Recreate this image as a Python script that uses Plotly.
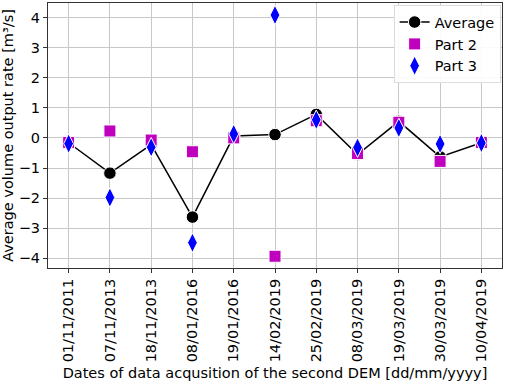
import plotly.graph_objects as go

dates = ["01/11/2011", "07/11/2013", "18/11/2013", "08/01/2016", "19/01/2016",
         "14/02/2019", "25/02/2019", "08/03/2019", "19/03/2019", "30/03/2019", "10/04/2019"]
average = [-0.16, -1.17, -0.22, -2.63, 0.06, 0.11, 0.78, -0.55, 0.55, -0.63, -0.16]
part2 = [-0.15, 0.23, -0.07, -0.46, 0.0, -3.93, 0.57, -0.52, 0.52, -0.78, -0.15]
part3 = [-0.19, -1.98, -0.31, -3.48, 0.13, 4.08, 0.6, -0.32, 0.33, -0.2, -0.17]

x = list(range(len(dates)))
font = "DejaVu Sans, sans-serif"

fig = go.Figure()
fig.add_trace(go.Scatter(x=x, y=average, name="Average", mode="lines+markers",
                         line=dict(color="black", width=1.5),
                         marker=dict(symbol="circle", size=12.5, color="black",
                                     line=dict(color="white", width=1))))
fig.add_trace(go.Scatter(x=x, y=part2, name="Part 2", mode="markers",
                         marker=dict(symbol="square", size=12, color="#bf00bf",
                                     line=dict(color="white", width=1))))
fig.add_trace(go.Scatter(x=x, y=part3, name="Part 3", mode="markers",
                         marker=dict(symbol="diamond-tall", size=14, color="#0000ff",
                                     line=dict(color="white", width=1))))

fig.update_layout(
    width=505, height=389,
    margin=dict(l=48, r=3, t=3, b=121, autoexpand=False),
    paper_bgcolor="white", plot_bgcolor="white",
    font=dict(family=font, size=14.5, color="black"),
    showlegend=True,
    legend=dict(x=0.997, y=0.992, xanchor="right", yanchor="top",
                bgcolor="rgba(255,255,255,0.9)", bordercolor="#dddddd", borderwidth=1,
                font=dict(size=14.5), itemwidth=30, tracegroupgap=0),
)
fig.update_xaxes(
    range=[-0.5, 10.5], tickmode="array", tickvals=x, ticktext=dates, tickangle=-90,
    automargin=False,
    showgrid=True, gridcolor="#c8c8c8", gridwidth=1,
    showline=True, linecolor="#333333", linewidth=1, mirror=True,
    ticks="outside", ticklen=4, tickcolor="#333333", tickfont=dict(size=14.5),
    title=dict(text="Dates of data acqusition of the second DEM [dd/mm/yyyy]",
               font=dict(size=14.5), standoff=6),
    zeroline=False,
)
fig.update_yaxes(
    range=[-4.32, 4.48], tickmode="array", tickvals=[-4, -3, -2, -1, 0, 1, 2, 3, 4],
    ticktext=["\u22124", "\u22123", "\u22122", "\u22121", "0", "1", "2", "3", "4"],
    automargin=False,
    showgrid=True, gridcolor="#c8c8c8", gridwidth=1,
    showline=True, linecolor="#333333", linewidth=1, mirror=True,
    ticks="outside", ticklen=4, tickcolor="#333333", tickfont=dict(size=14.5),
    title=dict(text="Average volume output rate [m\u00b3/s]", font=dict(size=14.5), standoff=5),
    zeroline=False,
)

fig.write_html("out.html", config={"displayModeBar": False},
               post_script="document.body.style.margin='0';document.body.style.padding='0';")
